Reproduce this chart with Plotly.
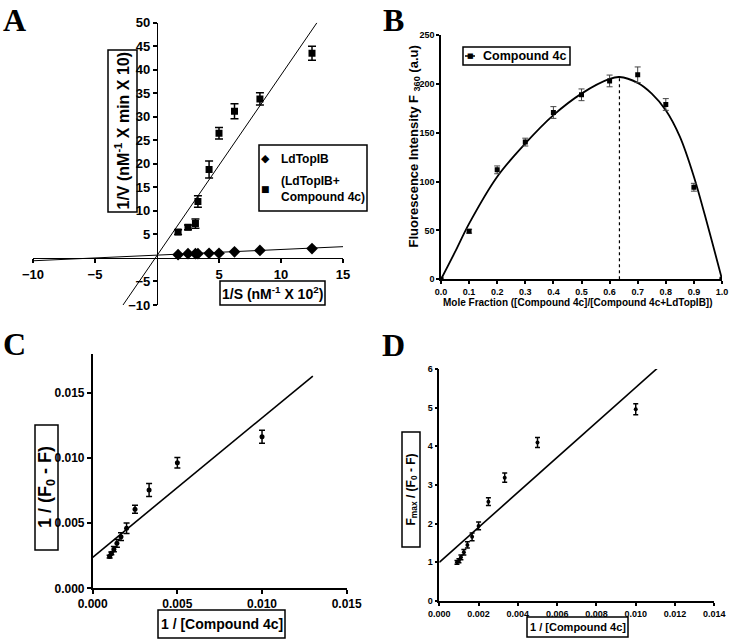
import plotly.graph_objects as go

W, H = 733, 643
def px(x): return x / W
def py(y): return 1 - y / H

FONT = "Arial, Liberation Sans, sans-serif"

# ---------------- Panel A : Lineweaver-Burk ----------------
a_x = [1.7, 2.5, 3.1, 3.3, 4.2, 5.0, 6.25, 8.3, 12.5]
a_enz_y = [0.7, 0.9, 0.9, 0.9, 1.0, 1.0, 1.3, 1.6, 2.0]
a_inh_y = [5.5, 6.5, 7.3, 12.0, 18.8, 26.5, 31.2, 33.8, 43.5]
a_inh_err = [0.5, 0.5, 1.0, 1.2, 1.8, 1.2, 1.6, 1.3, 1.5]
a_fit_enz_x = [-10, 15]
a_fit_enz_y = [-0.6, 2.4]
a_fit_inh_x = [-2.74, 12.9]
a_fit_inh_y = [-10, 50]
a_xticks = [-10, -5, 5, 10, 15]
a_yticks = [-10, -5, 5, 10, 15, 20, 25, 30, 35, 40, 45, 50]

# ---------------- Panel B : Job plot ----------------
b_x = [0, 0.1, 0.2, 0.3, 0.4, 0.5, 0.6, 0.7, 0.8, 0.9, 1.0]
b_y = [0, 49.2, 112, 140.4, 170.7, 188.8, 203, 209.3, 178.9, 94.2, 0]
b_err = [0, 2, 4, 4, 6, 6, 6, 8, 6, 4, 0]
b_fit_x = [0, 0.05, 0.1, 0.2, 0.3, 0.4, 0.5, 0.6, 0.635, 0.7, 0.75, 0.8, 0.85, 0.9, 0.95, 1.0]
b_fit_y = [0, 28, 57, 105, 139, 168, 190, 205, 207, 201, 190, 173, 146, 105, 54, 0]
b_peak_x = [0.635, 0.635]
b_peak_y = [0, 207]

# ---------------- Panel C ----------------
c_x = [0.001, 0.0011, 0.00125, 0.00143, 0.00167, 0.002, 0.0025, 0.00333, 0.005, 0.01]
c_y = [0.00243, 0.00268, 0.0030, 0.00345, 0.00396, 0.0046, 0.00606, 0.00754, 0.00963, 0.01163]
c_err = [0.0001, 0.0001, 0.0002, 0.0003, 0.0003, 0.0004, 0.0003, 0.0005, 0.0004, 0.0005]
c_fit_x = [0, 0.013]
c_fit_y = [0.00238, 0.01628]
c_ticks = [0, 0.005, 0.010, 0.015]

# ---------------- Panel D ----------------
d_x = [0.0009, 0.001, 0.0011, 0.00125, 0.00143, 0.00167, 0.002, 0.0025, 0.00333, 0.005, 0.01]
d_y = [1.0, 1.04, 1.13, 1.26, 1.45, 1.66, 1.94, 2.57, 3.19, 4.10, 4.96]
d_err = [0.05, 0.05, 0.06, 0.07, 0.08, 0.1, 0.1, 0.1, 0.12, 0.13, 0.14]
d_fit_x = [0, 0.0111]
d_fit_y = [1.0, 6.02]

fig = go.Figure()
blk = "black"

# A traces
fig.add_trace(go.Scatter(x=a_fit_enz_x, y=a_fit_enz_y, mode="lines", line=dict(color=blk, width=1),
                         showlegend=False, xaxis="x", yaxis="y"))
fig.add_trace(go.Scatter(x=a_fit_inh_x, y=a_fit_inh_y, mode="lines", line=dict(color=blk, width=1),
                         showlegend=False, xaxis="x", yaxis="y"))
fig.add_trace(go.Scatter(x=a_x, y=a_enz_y, mode="markers", name="LdTopIB", showlegend=False,
                         marker=dict(symbol="diamond", size=9, color=blk),
                         xaxis="x", yaxis="y"))
fig.add_trace(go.Scatter(x=a_x, y=a_inh_y, mode="markers", name="(LdTopIB+Compound 4c)", showlegend=False,
                         marker=dict(symbol="square", size=7, color=blk),
                         error_y=dict(type="data", array=a_inh_err, color=blk, thickness=1.5, width=4),
                         xaxis="x", yaxis="y"))

# B traces
fig.add_trace(go.Scatter(x=b_fit_x, y=b_fit_y, mode="lines", line=dict(color=blk, width=1.8, shape="spline"),
                         showlegend=False, xaxis="x2", yaxis="y2"))
fig.add_trace(go.Scatter(x=b_peak_x, y=b_peak_y, mode="lines", line=dict(color=blk, width=1.2, dash="dot"),
                         showlegend=False, xaxis="x2", yaxis="y2"))
fig.add_trace(go.Scatter(x=b_x, y=b_y, mode="markers", name="Compound 4c", showlegend=False,
                         marker=dict(symbol="square", size=5, color=blk),
                         error_y=dict(type="data", array=b_err, color="#444", thickness=1, width=3),
                         xaxis="x2", yaxis="y2"))

# C traces
fig.add_trace(go.Scatter(x=c_fit_x, y=c_fit_y, mode="lines", line=dict(color=blk, width=1.6),
                         showlegend=False, xaxis="x3", yaxis="y3"))
fig.add_trace(go.Scatter(x=c_x, y=c_y, mode="markers", showlegend=False,
                         marker=dict(symbol="circle", size=5, color=blk),
                         error_y=dict(type="data", array=c_err, color=blk, thickness=1.5, width=3),
                         xaxis="x3", yaxis="y3"))

# D traces
fig.add_trace(go.Scatter(x=d_fit_x, y=d_fit_y, mode="lines", line=dict(color=blk, width=1.6),
                         showlegend=False, xaxis="x4", yaxis="y4"))
fig.add_trace(go.Scatter(x=d_x, y=d_y, mode="markers", showlegend=False,
                         marker=dict(symbol="circle", size=4, color=blk),
                         error_y=dict(type="data", array=d_err, color=blk, thickness=1.5, width=2.5),
                         xaxis="x4", yaxis="y4"))

def ax(**kw):
    d = dict(showline=True, linecolor=blk, linewidth=1.5, ticks="outside", ticklen=4, tickwidth=1.5,
             tickcolor=blk, showgrid=False, zeroline=False, mirror=False, automargin=False)
    d.update(kw)
    return d

fig.update_layout(
    template="none", showlegend=False,
    width=W, height=H, margin=dict(l=0, r=0, t=0, b=0, pad=0, autoexpand=False),
    paper_bgcolor="white", plot_bgcolor="rgba(0,0,0,0)",
    font=dict(family=FONT, color=blk),
    xaxis=ax(domain=[px(33), px(343)], range=[-10, 15], tickvals=a_xticks, anchor="free",
             position=py(258), tickfont=dict(size=13, weight="bold"), linewidth=1.2),
    yaxis=ax(domain=[py(305), py(22.7)], range=[-10, 50], tickvals=a_yticks, anchor="free",
             position=px(157), tickfont=dict(size=13, weight="bold"), linewidth=1.2),
    xaxis2=ax(domain=[px(441), px(722)], range=[0, 1.0], dtick=0.1, tick0=0, tickformat=".1f",
              anchor="y2", tickfont=dict(size=9, weight="bold"), ticklen=3),
    yaxis2=ax(domain=[py(279.3), py(35)], range=[0, 250], dtick=50, anchor="x2",
              tickfont=dict(size=9, weight="bold"), ticklen=3),
    xaxis3=ax(domain=[px(92.7), px(346.7)], range=[0, 0.015], tickvals=c_ticks, tickformat=".3f",
              anchor="y3", tickfont=dict(size=12, weight="bold")),
    yaxis3=ax(domain=[py(588.3), py(353.6)], range=[0, 0.018], tickvals=c_ticks, tickformat=".3f",
              anchor="x3", tickfont=dict(size=12, weight="bold")),
    xaxis4=ax(domain=[px(439.3), px(714.3)], range=[0, 0.014], dtick=0.002, tick0=0, tickformat=".3f",
              anchor="y4", tickfont=dict(size=9, weight="bold"), ticklen=3),
    yaxis4=ax(domain=[py(601), py(369)], range=[0, 6], dtick=1, anchor="x4",
              tickfont=dict(size=9, weight="bold"), ticklen=3),
)

# Boxes for titles and legends
boxes = [(108, 50, 137, 212), (220, 281, 325, 305), (35, 425, 58, 550), (158, 610, 285, 638),
         (402, 432, 420, 547), (527, 617, 628, 637), (259, 145, 367, 211), (463, 47, 570, 65)]
for (x0, y0, x1, y1) in boxes:
    fig.add_shape(type="rect", xref="paper", yref="paper", x0=px(x0), x1=px(x1), y0=py(y0), y1=py(y1),
                  line=dict(color=blk, width=1.5), fillcolor="rgba(0,0,0,0)")
# legend B line sample
fig.add_shape(type="line", xref="paper", yref="paper", x0=px(465), x1=px(475), y0=py(56), y1=py(56),
              line=dict(color=blk, width=1.5))

def ann(text, x, y, size, angle=0, family=FONT, xanchor="center", yanchor="middle", align="center"):
    fig.add_annotation(text=text, x=px(x), y=py(y), xref="paper", yref="paper", showarrow=False,
                       xanchor=xanchor, yanchor=yanchor, textangle=angle, align=align,
                       font=dict(size=size, family=family, weight="bold", color=blk))

# axis titles
ann("1/V (nM<sup>-1</sup> X min X 10)", 122.5, 131, 16, -90)
ann("1/S (nM<sup>-1</sup> X 10<sup>2</sup>)", 272.5, 293, 14)
ann("Fluorescence Intensity F <sub>360</sub> (a.u)", 414.5, 147, 13, -90)
ann("Mole Fraction ([Compound 4c]/[Compound 4c+LdTopIB])", 578, 302, 10)
ann("1 / (F<sub>0</sub> - F)", 46.5, 487.5, 18, -90)
ann("1 / [Compound 4c]", 221.5, 624, 14)
ann("F<sub>max</sub> / (F<sub>0</sub> - F)", 411, 489.5, 12, -90)
ann("1 / [Compound 4c]", 577.5, 627, 11)

# legends (glyph symbols + text)
SYM = "DejaVu Sans"
ann("◆", 265, 159, 11, family=SYM)
ann("LdTopIB", 279, 159, 12, xanchor="left")
ann("■", 265, 189, 9, family=SYM)
ann("(LdTopIB+<br>Compound 4c)", 279, 189, 12, xanchor="left", align="left")
ann("■", 470, 56, 7, family=SYM)
ann("Compound 4c", 481, 56, 12.5, xanchor="left")

# panel letters
SERIF = "Liberation Serif, Times New Roman, serif"
ann("A", 14, 0, 32, family=SERIF, yanchor="top")
ann("B", 393, 0, 32, family=SERIF, yanchor="top")
ann("C", 14, 324, 32, family=SERIF, yanchor="top")
ann("D", 393, 325, 32, family=SERIF, yanchor="top")

fig.write_html("out.html", config={"displayModeBar": False},
               post_script="document.body.style.margin='0';document.body.style.overflow='hidden';")
